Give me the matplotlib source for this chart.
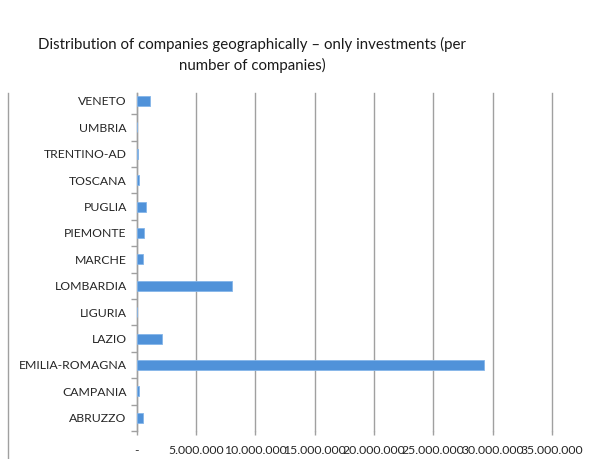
import numpy as np
import matplotlib
matplotlib.use("Agg")
from matplotlib import pyplot as plt
from matplotlib.lines import Line2D
from matplotlib.ticker import FixedLocator, FuncFormatter

# Data (bottom to top, as in the chart)
regions = ["ABRUZZO", "CAMPANIA", "EMILIA-ROMAGNA", "LAZIO", "LIGURIA", "LOMBARDIA",
           "MARCHE", "PIEMONTE", "PUGLIA", "TOSCANA", "TRENTINO-AD", "UMBRIA", "VENETO"]
investments = [550000, 180000, 29300000, 2120000, 0, 8030000,
               550000, 600000, 840000, 200000, 150000, 0, 1140000]
x_ticks = [0, 5000000, 10000000, 15000000, 20000000, 25000000, 30000000, 35000000]

plt.rcParams["font.family"] = ["Lato", "DejaVu Sans"]

fig = plt.figure(figsize=(6.00, 4.59), dpi=100)
ax = fig.add_axes([136.5 / 600, 1 - 431 / 459, (552 - 136.5) / 600, (431 - 93) / 459])

y = np.arange(len(regions))
ax.barh(y, investments, height=0.38, color="#5092d9", edgecolor="#85b5e9", linewidth=0.6, zorder=3)

ax.set_xlim(0, 35000000)
ax.set_ylim(-0.5, 12.3)

def fmt(v, pos):
    if v == 0:
        return "-"
    return f"{int(v):,}".replace(",", ".")

ax.xaxis.set_major_locator(FixedLocator(x_ticks))
ax.xaxis.set_major_formatter(FuncFormatter(fmt))
ax.grid(axis="x", color="#a0a0a0", linewidth=1.0, zorder=0)
for gl in ax.get_xgridlines():
    gl.set_clip_on(False)

ax.set_yticks(y)
ax.set_yticklabels(regions)
ax.yaxis.set_minor_locator(FixedLocator(np.arange(-0.5, 12.4, 1.0)))
ax.tick_params(axis="y", which="major", length=0, pad=7, labelsize=8.8, labelcolor="#262626")
ax.tick_params(axis="y", which="minor", length=4, color="#a0a0a0", width=1.0)
ax.tick_params(axis="x", which="major", length=3, color="#a0a0a0", width=1.0,
               labelsize=8.8, labelcolor="#262626", pad=7)

for side in ["top", "right", "bottom"]:
    ax.spines[side].set_visible(False)
ax.spines["left"].set_color("#a0a0a0")
ax.spines["left"].set_linewidth(1.0)

title_x = 252 / 600
fig.text(title_x, 1 - 44 / 459, "Distribution of companies geographically \u2013 only investments (per",
         ha="center", va="center", fontsize=10.8, color="#1a1a1a")
fig.text(title_x, 1 - 65 / 459, "number of companies)",
         ha="center", va="center", fontsize=10.8, color="#1a1a1a")

# border line at the left of the chart area
fig.add_artist(Line2D([7.5 / 600, 7.5 / 600], [0, 1 - 93 / 459], transform=fig.transFigure,
                      color="#a0a0a0", linewidth=1.0))

plt.savefig("out.png", dpi=100)
